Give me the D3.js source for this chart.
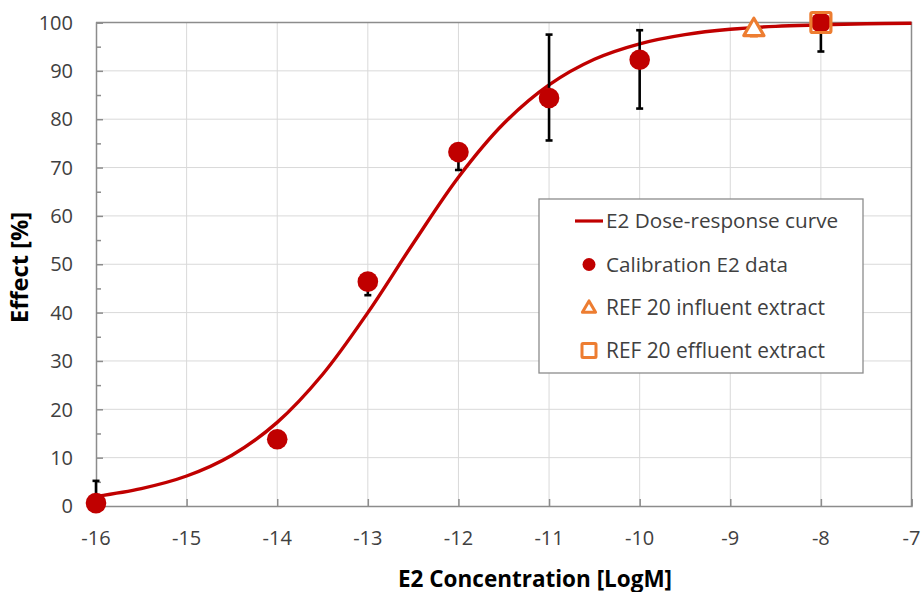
<!DOCTYPE html>
<html>
<head>
<meta charset="utf-8">
<script src="https://cdn.jsdelivr.net/npm/d3@7"></script>
<style>
  html, body { margin: 0; padding: 0; background: #fff; }
  svg { display: block; font-family: "Open Sans", "Noto Sans", sans-serif; }
</style>
</head>
<body>
<svg id="chart" width="924" height="592"></svg>
<script>
// ---- data ----
const xTicks = [-16, -15, -14, -13, -12, -11, -10, -9, -8, -7];
const yTicks = [0, 10, 20, 30, 40, 50, 60, 70, 80, 90, 100];
const yMinorTicks = [5, 15, 25, 35, 45, 55, 65, 75, 85, 95];

// fitted dose-response curve
const curveX = [-16, -15.5, -15, -14.5, -14, -13.5, -13, -12.5, -12, -11.5, -11, -10.5, -10, -9.5, -9, -8.5, -8, -7.5, -7];
const curveY = [2.0, 3.6, 6.2, 10.5, 17.3, 27.2, 40.0, 54.3, 68.0, 79.1, 87.1, 92.4, 95.6, 97.5, 98.6, 99.2, 99.5, 99.75, 99.86];

// calibration E2 data with error bars
const calX = [-16, -14, -13, -12, -11, -10, -8];
const calY = [0.6, 13.8, 46.4, 73.2, 84.4, 92.3, 100];
const calLo = [0, 13.0, 43.6, 69.5, 75.6, 82.2, 94.0];
const calHi = [5.2, 14.6, 47.5, 74.5, 97.5, 98.4, 100];

// REF 20 extracts
const inflX = [-8.74];
const inflY = [98.7];
const inflLo = [97.1];
const effX = [-8];
const effY = [100];

const legendLabels = ["E2 Dose-response curve", "Calibration E2 data", "REF 20 influent extract", "REF 20 effluent extract"];

const RED = "#C00000", ORANGE = "#ED7D31", TXT = "#404040", GRID = "#d9d9d9", AXIS = "#8c8c8c";

const svg = d3.select("#chart");
const x = d3.scaleLinear().domain([-16, -7]).range([96, 911.5]);
const y = d3.scaleLinear().domain([0, 100]).range([506, 22.5]);

function fit(sel, target) {
  let fs = parseFloat(sel.attr("font-size"));
  for (let i = 0; i < 4; i++) {
    const w = sel.node().getComputedTextLength();
    if (!w) break;
    fs = fs * target / w;
    sel.attr("font-size", fs);
  }
}

// gridlines
svg.append("g").selectAll("line").data(xTicks.slice(1, -1)).join("line")
  .attr("x1", d => x(d)).attr("x2", d => x(d)).attr("y1", y(0)).attr("y2", y(100))
  .attr("stroke", GRID).attr("stroke-width", 1);
svg.append("g").selectAll("line").data(yTicks.slice(1, -1)).join("line")
  .attr("x1", x(-16)).attr("x2", x(-7)).attr("y1", d => y(d)).attr("y2", d => y(d))
  .attr("stroke", GRID).attr("stroke-width", 1);

// plot border (top and right)
svg.append("path")
  .attr("d", `M${x(-16)},${y(100)}H${x(-7)}V${y(0)}`)
  .attr("fill", "none").attr("stroke", AXIS).attr("stroke-width", 1.5);

// axes
const yAxis = svg.append("g").attr("transform", `translate(${x(-16)},0)`)
  .call(d3.axisRight(y).tickValues(yTicks).tickSize(7).tickFormat(""));
const yMinor = svg.append("g").attr("transform", `translate(${x(-16)},0)`)
  .call(d3.axisRight(y).tickValues(yMinorTicks).tickSize(5).tickFormat(""));
const xAxis = svg.append("g").attr("transform", `translate(0,${y(0)})`)
  .call(d3.axisTop(x).tickValues(xTicks).tickSize(7).tickFormat(""));
[yAxis, yMinor, xAxis].forEach(g => {
  g.selectAll("path,line").attr("stroke", AXIS).attr("stroke-width", 1.5);
});
yMinor.select("path").remove();

// tick labels
svg.append("g").selectAll("text").data(yTicks).join("text")
  .attr("x", 73).attr("y", d => y(d)).attr("dy", "0.36em")
  .attr("text-anchor", "end").attr("font-size", 20).attr("fill", TXT)
  .text(d => d);
svg.append("g").selectAll("text").data(xTicks).join("text")
  .attr("x", d => x(d)).attr("y", 545)
  .attr("text-anchor", "middle").attr("font-size", 20).attr("fill", TXT)
  .text(d => d);

// axis titles
const xt = svg.append("text").attr("x", 398).attr("y", 586.5)
  .attr("font-size", 20).attr("font-weight", "bold").attr("fill", "#000")
  .text("E2 Concentration [LogM]");
fit(xt, 274);
const yt = svg.append("text")
  .attr("transform", "translate(28,323) rotate(-90)")
  .attr("font-size", 20).attr("font-weight", "bold").attr("fill", "#000")
  .text("Effect [%]");
fit(yt, 111);

// curve
const curvePts = curveX.map((d, i) => [d, curveY[i]]);
svg.append("path").datum(curvePts)
  .attr("d", d3.line().x(d => x(d[0])).y(d => y(d[1])).curve(d3.curveCatmullRom))
  .attr("fill", "none").attr("stroke", RED).attr("stroke-width", 3.4);

// error bars
const eb = svg.append("g").attr("stroke", "#000").attr("stroke-width", 2.6);
calX.forEach((cx, i) => {
  const px = x(cx);
  eb.append("line").attr("x1", px).attr("x2", px).attr("y1", y(calLo[i])).attr("y2", y(calHi[i]));
  [calLo[i], calHi[i]].forEach(v => {
    if (v > 0 && v < 100) eb.append("line").attr("x1", px - 3.5).attr("x2", px + 3.5).attr("y1", y(v)).attr("y2", y(v));
  });
});
// influent error bar (small)
svg.append("line").attr("x1", x(inflX[0]) - 4).attr("x2", x(inflX[0]) + 4)
  .attr("y1", y(inflLo[0])).attr("y2", y(inflLo[0]))
  .attr("stroke", ORANGE).attr("stroke-width", 2);

// calibration points
svg.append("g").selectAll("circle").data(calX).join("circle")
  .attr("cx", d => x(d)).attr("cy", (d, i) => y(calY[i])).attr("r", 10.3)
  .attr("fill", RED);

// influent triangle
const tri = d3.symbol().type(d3.symbolTriangle).size(175);
svg.append("g").selectAll("path").data(inflX).join("path")
  .attr("d", tri)
  .attr("transform", (d, i) => `translate(${x(d)},${y(inflY[i]) + 1})`)
  .attr("fill", "#fff").attr("stroke", ORANGE).attr("stroke-width", 3.2).attr("stroke-linejoin", "round");

// effluent square
svg.append("g").selectAll("rect").data(effX).join("rect")
  .attr("x", d => x(d) - 10).attr("y", (d, i) => y(effY[i]) - 10)
  .attr("width", 20).attr("height", 20).attr("rx", 1.5)
  .attr("fill", "none").attr("stroke", ORANGE).attr("stroke-width", 3.2);

// legend
const lg = svg.append("g");
lg.append("rect").attr("x", 539).attr("y", 199).attr("width", 324).attr("height", 174)
  .attr("fill", "#fff").attr("stroke", AXIS).attr("stroke-width", 1.3);
const rowY = [221, 264.5, 307.5, 350.5];
const textW = [232, 182, 219, 219];
lg.append("line").attr("x1", 575).attr("x2", 603).attr("y1", rowY[0]).attr("y2", rowY[0])
  .attr("stroke", RED).attr("stroke-width", 3.2);
lg.append("circle").attr("cx", 589).attr("cy", rowY[1]).attr("r", 6.5).attr("fill", RED);
lg.append("path").attr("d", d3.symbol().type(d3.symbolTriangle).size(75))
  .attr("transform", `translate(589,${rowY[2] + 1})`)
  .attr("fill", "#fff").attr("stroke", ORANGE).attr("stroke-width", 3).attr("stroke-linejoin", "round");
lg.append("rect").attr("x", 582).attr("y", rowY[3] - 7).attr("width", 14).attr("height", 14).attr("rx", 1)
  .attr("fill", "#fff").attr("stroke", ORANGE).attr("stroke-width", 3);
legendLabels.forEach((t, i) => {
  const tx = lg.append("text").attr("x", 606).attr("y", rowY[i]).attr("dy", "0.36em")
    .attr("font-size", 20).attr("fill", TXT).text(t);
  fit(tx, textW[i]);
});
</script>
</body>
</html>
